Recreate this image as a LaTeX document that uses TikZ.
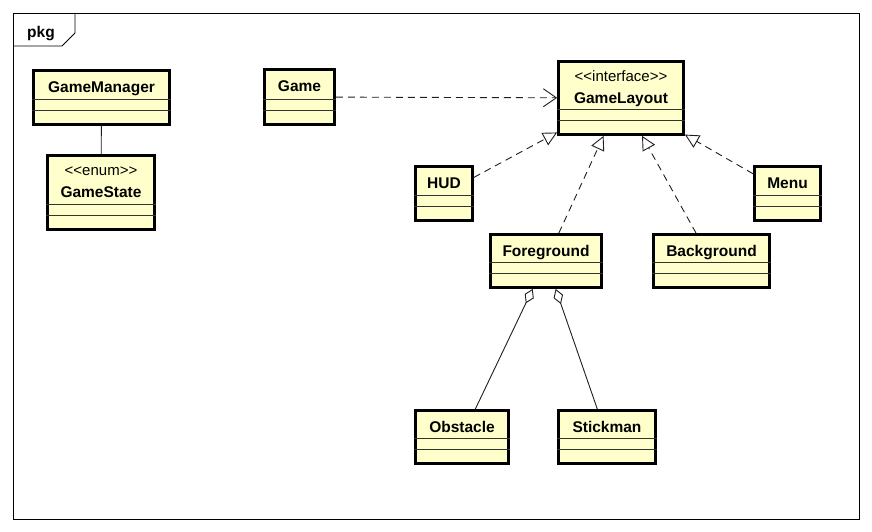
\documentclass[tikz,border=0pt]{standalone}
\usepackage{fontspec}
\setmainfont{Liberation Sans}
\usepackage{tikz}
\usetikzlibrary{arrows,arrows.meta,positioning,fit,calc}
\definecolor{fondclasse}{RGB}{255,255,204}
\definecolor{trait}{RGB}{30,30,30}
\tikzset{
  classe/.style={draw=black, line width=2.8pt, fill=fondclasse, inner sep=0pt},
  compart/.style={draw=black!80, line width=0.9pt},
  nom/.style={anchor=base, inner sep=0pt, font=\fontsize{15.5}{18}\selectfont\bfseries},
  stereo/.style={anchor=base, inner sep=0pt, font=\fontsize{15}{18}\selectfont},
  realise/.style={draw=trait, line width=0.9pt, dash pattern=on 7pt off 5pt, -{Triangle[fill=white, length=14pt, width=14pt, line width=0.9pt]}},
  depend/.style={draw=trait, line width=0.9pt, dash pattern=on 7pt off 5pt, -{Straight Barb[length=13pt, width=18pt, line width=0.9pt]}},
  agrege/.style={draw=trait, line width=0.9pt, {Diamond[fill=white, length=16pt, width=10pt, line width=0.9pt]}-}
}
% une classe : nom, coin haut gauche, coin bas droit, texte
\newcommand{\classe}[6]{%
  \node[classe, fit={(#2,#3) (#4,#5)}] (#1) {};
  \draw[compart] ([yshift=26pt]#1.south west) -- ([yshift=26pt]#1.south east);
  \draw[compart] ([yshift=15pt]#1.south west) -- ([yshift=15pt]#1.south east);
  \node[nom] (#1-nom) at ([yshift=-23pt]#1.north) {#6};
}
% une classe avec stereotype
\newcommand{\classeStereo}[7]{%
  \node[classe, fit={(#2,#3) (#4,#5)}] (#1) {};
  \draw[compart] ([yshift=26pt]#1.south west) -- ([yshift=26pt]#1.south east);
  \draw[compart] ([yshift=15pt]#1.south west) -- ([yshift=15pt]#1.south east);
  \node[stereo] (#1-stereo) at ([yshift=-21.5pt]#1.north) {<{}<#6>{}>};
  \node[nom] (#1-nom) at ([yshift=-43pt]#1.north) {#7};
}

\begin{document}
\begin{tikzpicture}[x=1pt, y=-1pt]
\useasboundingbox (0,0) rectangle (872,532);
% cadre du paquetage
\draw[line width=0.9pt] (13,13) rectangle (859,519);
\draw[line width=0.9pt] (13,46) -- (62,46) -- (75,33) -- (75,13);
\node[nom] (pkg) at (41,37.5) {pkg};

\classe{gameManager}{33.5}{70.5}{169.5}{124.5}{GameManager}
\classeStereo{gameState}{47.5}{155.5}{154.5}{229.5}{enum}{GameState}
\classe{game}{264.5}{69.5}{334.5}{124.5}{Game}
\classeStereo{gameLayout}{558.5}{61.5}{683.5}{134.5}{interface}{GameLayout}
\classe{hud}{415.5}{166.5}{472.5}{220.5}{HUD}
\classe{menu}{754.5}{166.5}{820.5}{220.5}{Menu}
\classe{foreground}{490.5}{234.5}{601.5}{287.5}{Foreground}
\classe{background}{653.5}{234.5}{769.5}{287.5}{Background}
\classe{obstacle}{415.5}{410.5}{508.5}{463.5}{Obstacle}
\classe{stickman}{558.5}{410.5}{655.5}{463.5}{Stickman}

\draw[trait, line width=0.9pt] (gameManager) -- (gameState);
\draw[depend] (game) -- (gameLayout);
\draw[realise] (hud) -- (gameLayout);
\draw[realise] (foreground) -- (gameLayout);
\draw[realise] (background) -- (gameLayout);
\draw[realise] (menu) -- (gameLayout);
\draw[agrege] (foreground) -- (obstacle);
\draw[agrege] (foreground) -- (stickman);
\end{tikzpicture}
\end{document}
